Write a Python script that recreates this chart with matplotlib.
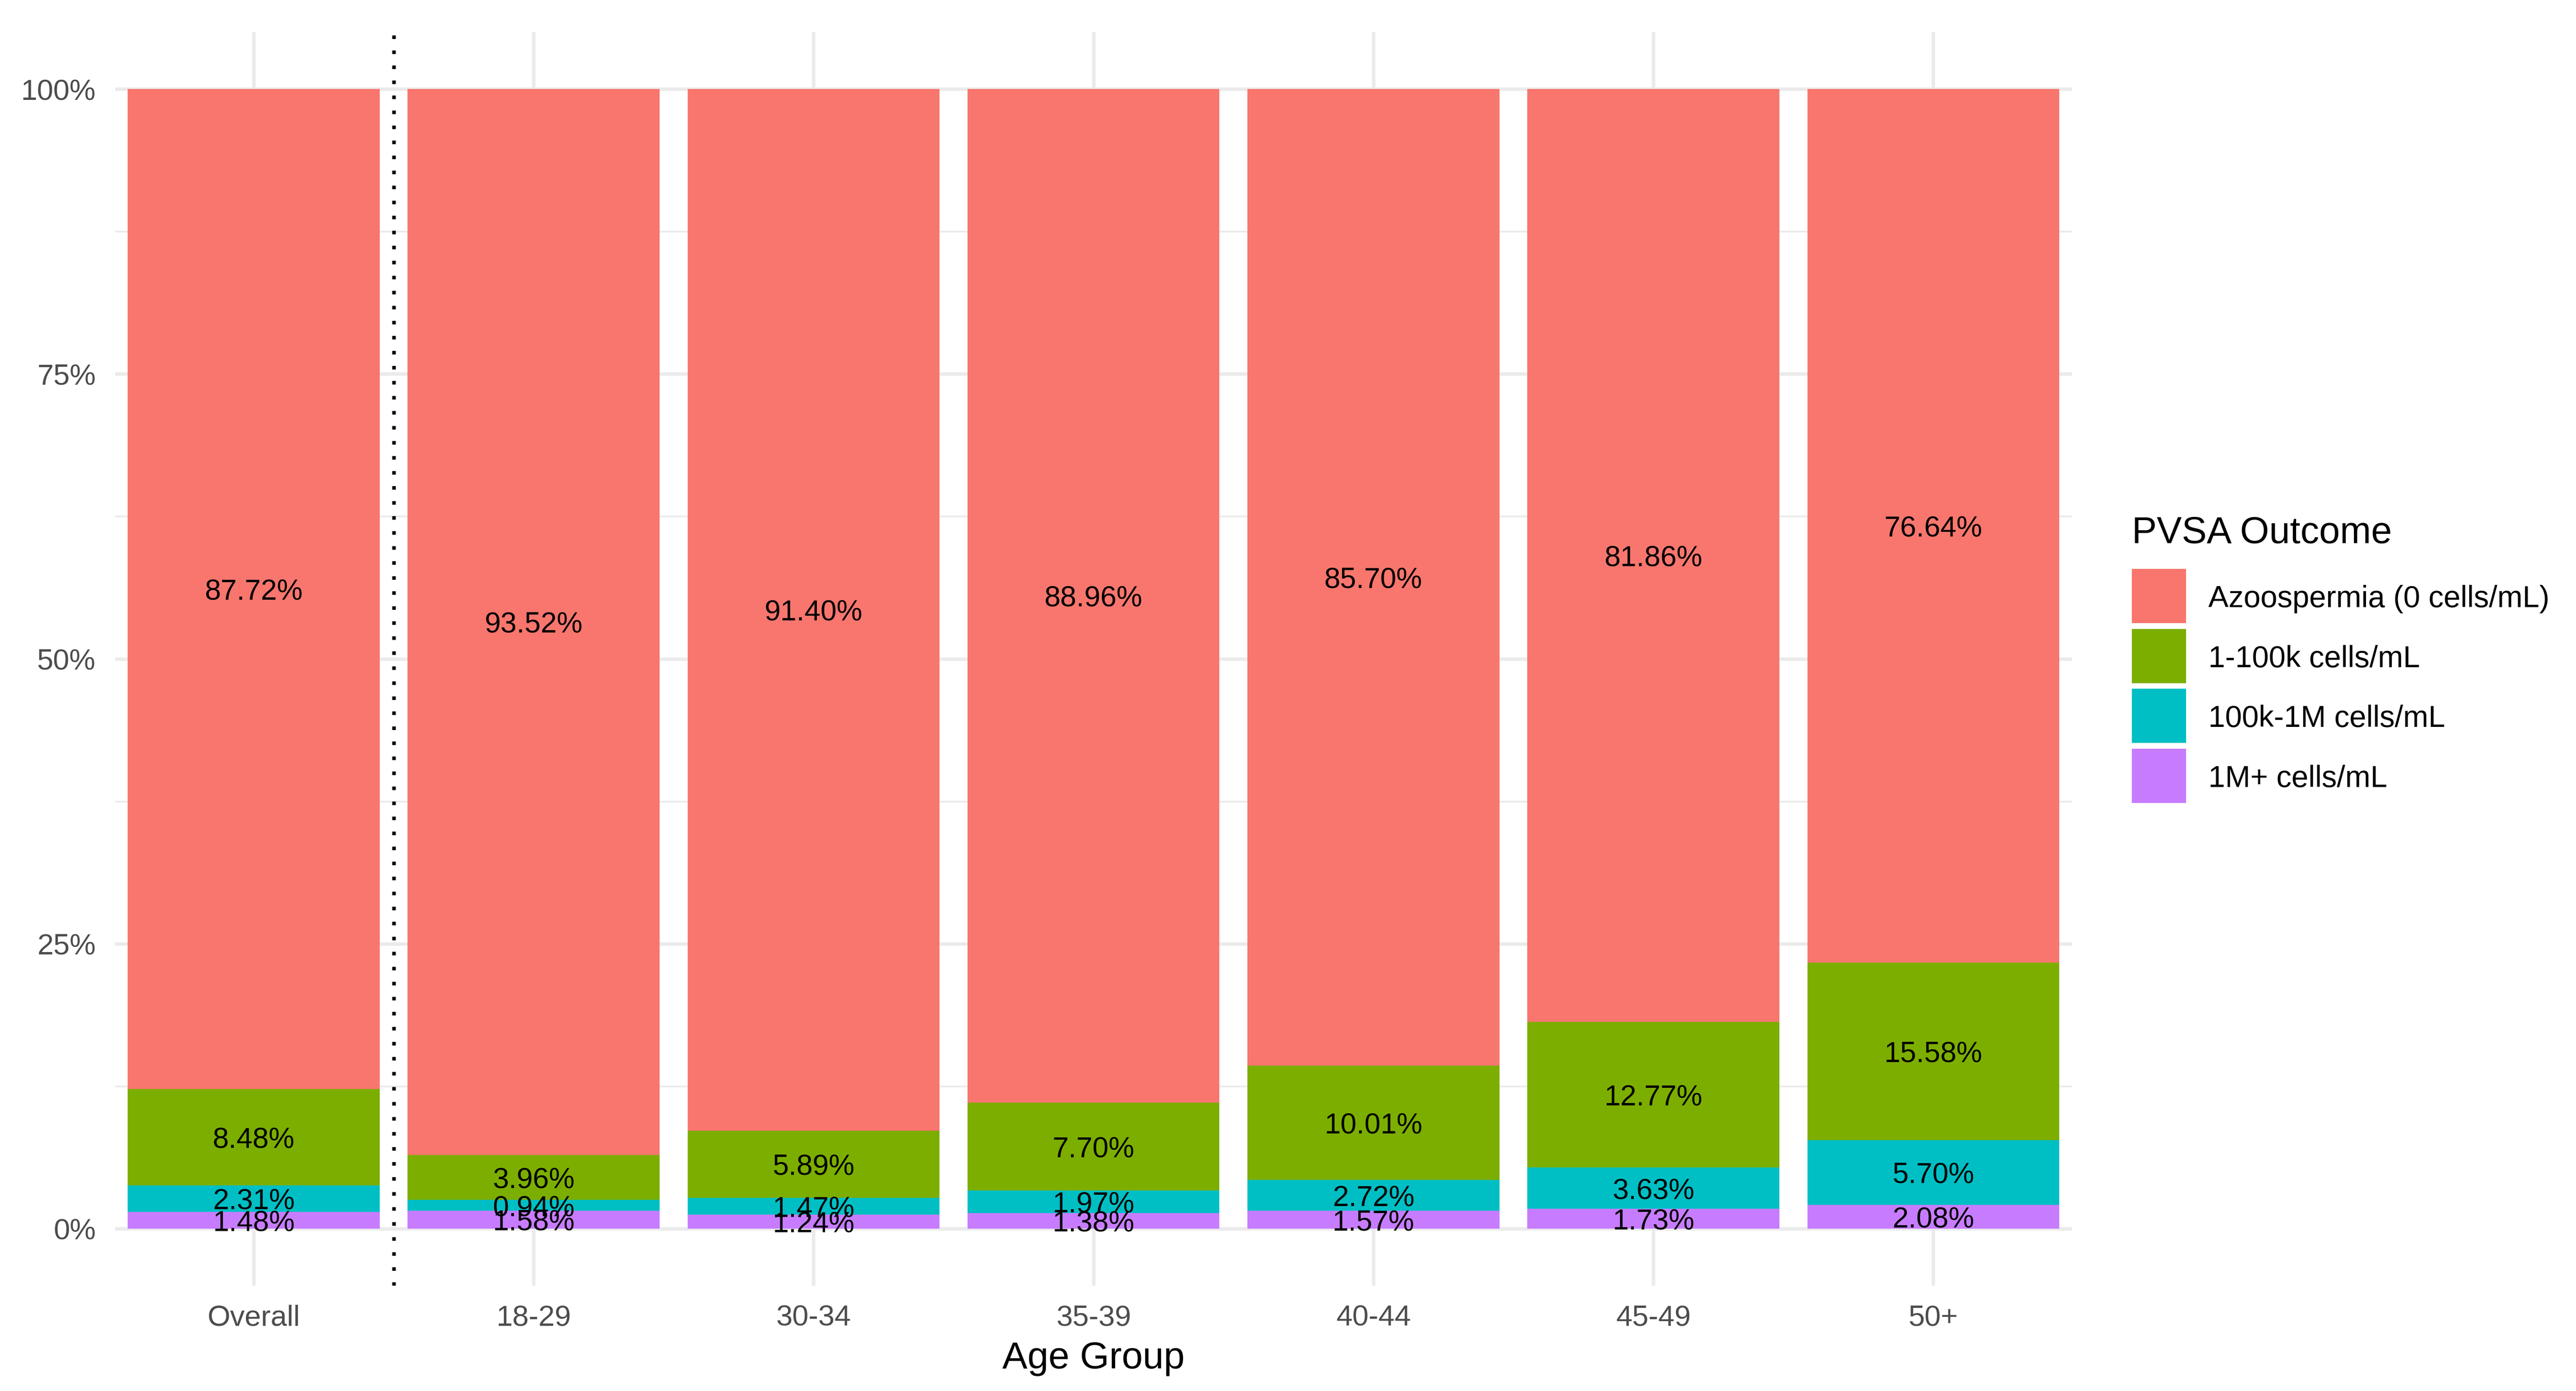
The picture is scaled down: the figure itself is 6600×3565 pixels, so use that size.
import matplotlib
matplotlib.use("Agg")
import matplotlib.pyplot as plt
from matplotlib.patches import Rectangle
import numpy as np

plt.rcParams['font.family'] = ['Liberation Sans', 'DejaVu Sans']

# ---- data ----
age_groups = ["Overall", "18-29", "30-34", "35-39", "40-44", "45-49", "50+"]
outcomes = ["Azoospermia (0 cells/mL)", "1-100k cells/mL", "100k-1M cells/mL", "1M+ cells/mL"]
pct_1m_plus = [1.48, 1.58, 1.24, 1.38, 1.57, 1.73, 2.08]
pct_100k_1m = [2.31, 0.94, 1.47, 1.97, 2.72, 3.63, 5.70]
pct_1_100k = [8.48, 3.96, 5.89, 7.70, 10.01, 12.77, 15.58]
pct_azoo = [87.72, 93.52, 91.40, 88.96, 85.70, 81.86, 76.64]
y_ticks = [0, 25, 50, 75, 100]
y_tick_labels = ["0%", "25%", "50%", "75%", "100%"]

colors = {
    "Azoospermia (0 cells/mL)": "#F8766D",
    "1-100k cells/mL": "#7CAE00",
    "100k-1M cells/mL": "#00BFC4",
    "1M+ cells/mL": "#C77CFF",
}

W, H = 6600, 3565
fig = plt.figure(figsize=(11, H / 600), dpi=600)
fig.patch.set_facecolor("white")

pl, pr, pt, pb = 295, 5309, 82, 3295
ax = fig.add_axes([pl / W, (H - pb) / H, (pr - pl) / W, (pb - pt) / H])

x = np.arange(len(age_groups))
ax.set_xlim(-0.495, len(age_groups) - 1 + 0.496)
ax.set_ylim(-5, 105)

# grid
grid_c = "#EBEBEB"
for yv in y_ticks:
    ax.axhline(yv, color=grid_c, lw=1.07, zorder=0)
for yv in [12.5, 37.5, 62.5, 87.5]:
    ax.axhline(yv, color=grid_c, lw=0.55, zorder=0)
for xv in x:
    ax.axvline(xv, color=grid_c, lw=1.07, zorder=0)

# stacked bars (bottom to top)
stack = [
    ("1M+ cells/mL", pct_1m_plus),
    ("100k-1M cells/mL", pct_100k_1m),
    ("1-100k cells/mL", pct_1_100k),
    ("Azoospermia (0 cells/mL)", pct_azoo),
]
bottom = np.zeros(len(age_groups))
for name, vals in stack:
    vals = np.array(vals)
    ax.bar(x, vals, bottom=bottom, width=0.9, color=colors[name], linewidth=0, zorder=2)
    for xi, b, v in zip(x, bottom, vals):
        ax.text(xi, b + v / 2, f"{v:.2f}%", ha="center", va="center_baseline",
                fontsize=8.9, color="black", zorder=4)
    bottom = bottom + vals

# separator
ax.axvline(0.5, color="black", lw=1.1, ls=(0, (1, 3.2)), zorder=3)

for s in ax.spines.values():
    s.set_visible(False)
ax.set_xticks(x)
ax.set_xticklabels(age_groups)
ax.set_yticks(y_ticks)
ax.set_yticklabels(y_tick_labels)
ax.tick_params(axis="both", length=0, labelsize=9, labelcolor="#4D4D4D")
ax.tick_params(axis="x", pad=5.8)
ax.tick_params(axis="y", pad=6)
ax.set_xlabel("Age Group", fontsize=11.6, color="black", labelpad=3.0)

# legend (manual, ggplot style)
fig.text(5462 / W, 1 - 1392 / H, "PVSA Outcome", fontsize=11.5, va="baseline", ha="left")
key_top0, pitch, key_sz = 1458, 153.6, 139
kx = 5462
for i, name in enumerate(outcomes):
    top = key_top0 + i * pitch
    fig.add_artist(Rectangle((kx / W, 1 - (top + key_sz) / H), key_sz / W, key_sz / H,
                             transform=fig.transFigure, facecolor=colors[name], edgecolor="none"))
    fig.text(5658 / W, 1 - (top + key_sz / 2) / H, name, fontsize=9.3,
             va="center_baseline", ha="left", color="black")

fig.savefig("out.png", dpi=600, facecolor="white")
